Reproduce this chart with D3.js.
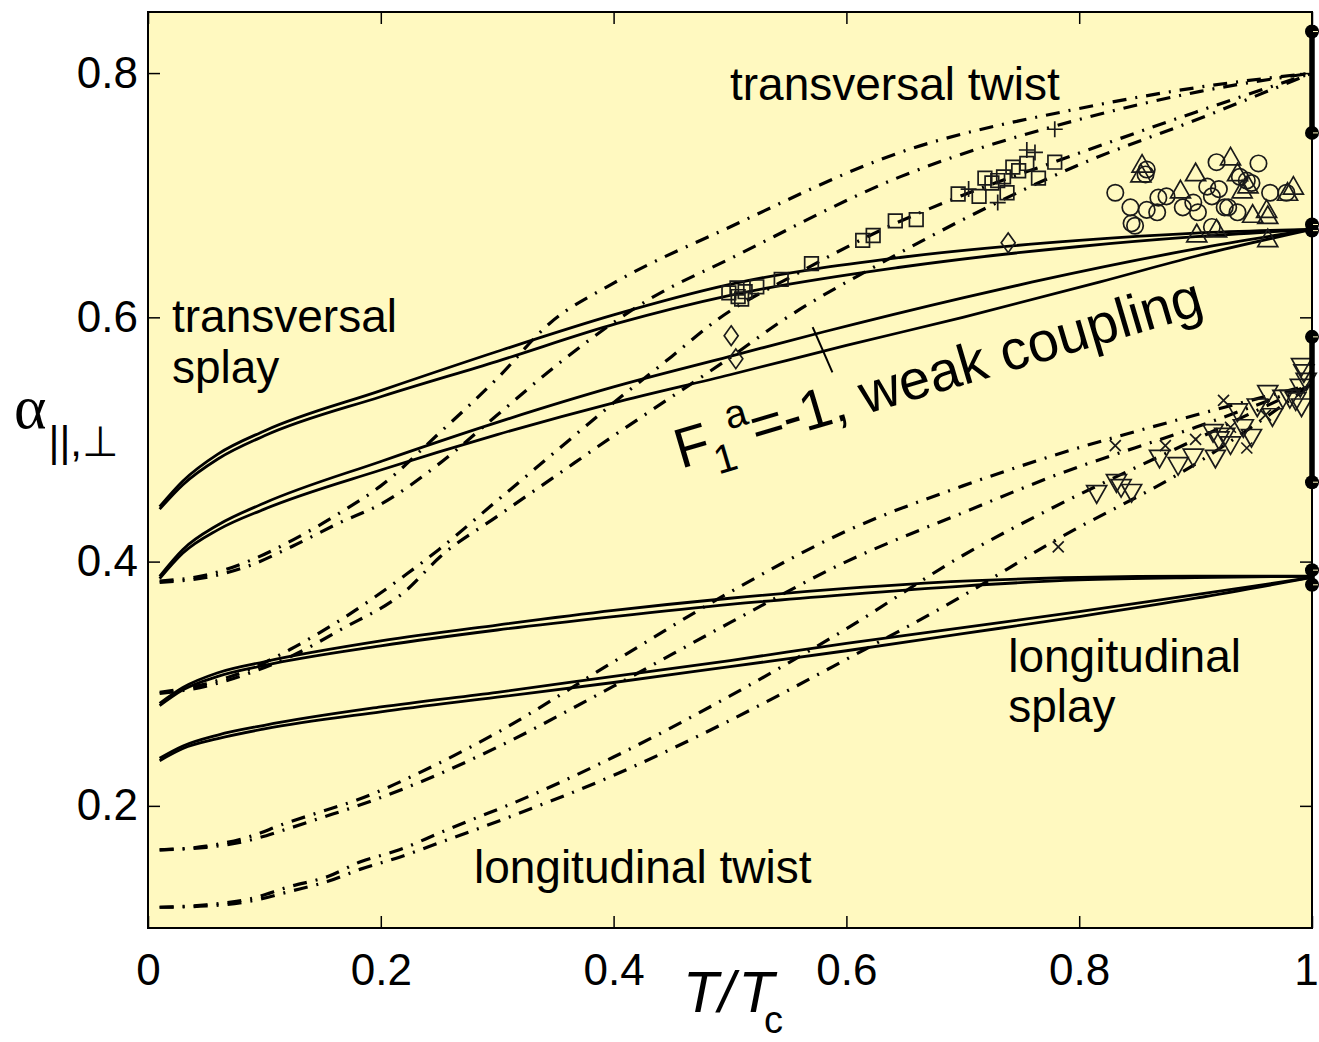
<!DOCTYPE html>
<html>
<head>
<meta charset="utf-8">
<script src="https://d3js.org/d3.v7.min.js"></script>
<style>
  body { margin: 0; background: #fff; }
  text { font-family: "Liberation Sans", Arial, sans-serif; fill: #000; }
</style>
</head>
<body>
<svg id="chart" width="1319" height="1042"></svg>
<script>
// axis ticks
var xTicks = [0, 0.2, 0.4, 0.6, 0.8, 1];
var xTickLabels = ["0", "0.2", "0.4", "0.6", "0.8", "1"];
var yTicks = [0.2, 0.4, 0.6, 0.8];
var yTickLabels = ["0.2", "0.4", "0.6", "0.8"];

// solid curves (splay), each drawn as a close double line
var transSplayA = [[0.01,0.445],[0.03,0.466],[0.06,0.488],[0.1,0.507],[0.2,0.54],[0.3,0.572],[0.4,0.602],[0.5,0.627],[0.646,0.649],[0.8,0.663],[0.9,0.669],[1,0.672]];
var transSplayB = [[0.01,0.443],[0.03,0.463],[0.06,0.484],[0.1,0.503],[0.2,0.535],[0.3,0.564],[0.403,0.595],[0.5,0.618],[0.646,0.641],[0.8,0.658],[0.9,0.666],[1,0.672]];
var transSplayC = [[0.01,0.388],[0.03,0.41],[0.06,0.43],[0.1,0.448],[0.2,0.482],[0.3,0.514],[0.4,0.543],[0.5,0.568],[0.58,0.588],[0.7,0.616],[0.76,0.629],[0.9,0.656],[1,0.672]];
var transSplayD = [[0.01,0.386],[0.03,0.407],[0.06,0.426],[0.1,0.443],[0.2,0.475],[0.3,0.504],[0.4,0.53],[0.5,0.553],[0.6,0.577],[0.7,0.6],[0.818,0.629],[0.9,0.65],[1,0.672]];
var longSplayA = [[0.01,0.284],[0.03,0.297],[0.06,0.309],[0.1,0.318],[0.2,0.335],[0.3,0.348],[0.4,0.36],[0.5,0.37],[0.6,0.378],[0.7,0.384],[0.8,0.387],[0.9,0.388],[1,0.388]];
var longSplayB = [[0.01,0.282],[0.03,0.295],[0.06,0.306],[0.1,0.315],[0.2,0.331],[0.3,0.344],[0.4,0.355],[0.5,0.365],[0.6,0.373],[0.7,0.38],[0.8,0.385],[0.9,0.387],[1,0.388]];
var longSplayC = [[0.01,0.239],[0.03,0.249],[0.06,0.258],[0.1,0.266],[0.2,0.281],[0.3,0.293],[0.4,0.306],[0.5,0.319],[0.6,0.333],[0.7,0.346],[0.8,0.359],[0.9,0.373],[1,0.387]];
var longSplayD = [[0.01,0.237],[0.03,0.247],[0.06,0.255],[0.1,0.263],[0.2,0.277],[0.3,0.289],[0.4,0.301],[0.5,0.314],[0.6,0.327],[0.7,0.341],[0.8,0.355],[0.9,0.37],[1,0.387]];

// dash-dot curves (twist)
var transTwistA = [[0.01,0.384],[0.05,0.389],[0.088,0.401],[0.125,0.418],[0.165,0.44],[0.2,0.462],[0.25,0.505],[0.3,0.55],[0.345,0.595],[0.4,0.628],[0.5,0.674],[0.646,0.735],[0.8,0.771],[0.9,0.788],[1,0.8]];
var transTwistB = [[0.01,0.383],[0.05,0.387],[0.088,0.397],[0.125,0.413],[0.165,0.432],[0.2,0.447],[0.25,0.48],[0.3,0.52],[0.35,0.56],[0.431,0.615],[0.5,0.648],[0.646,0.715],[0.8,0.762],[0.904,0.785],[1,0.8]];
var transTwistC = [[0.01,0.293],[0.05,0.3],[0.088,0.312],[0.122,0.328],[0.165,0.352],[0.2225,0.39],[0.25,0.41],[0.3,0.45],[0.35,0.49],[0.4,0.53],[0.45,0.568],[0.489,0.598],[0.56,0.637],[0.631,0.672],[0.7,0.7],[0.781,0.728],[0.9,0.768],[1,0.8]];
var transTwistD = [[0.01,0.292],[0.05,0.298],[0.088,0.309],[0.122,0.322],[0.165,0.344],[0.2225,0.377],[0.251,0.404],[0.3,0.437],[0.35,0.47],[0.4,0.503],[0.45,0.535],[0.5,0.567],[0.546,0.598],[0.631,0.645],[0.7,0.68],[0.8,0.725],[0.904,0.763],[1,0.8]];
var longTwistA = [[0.01,0.164],[0.05,0.167],[0.088,0.175],[0.116,0.185],[0.148,0.195],[0.18,0.205],[0.25,0.235],[0.3,0.26],[0.4,0.318],[0.5,0.375],[0.6,0.425],[0.7,0.462],[0.775,0.486],[0.9,0.52],[1,0.545]];
var longTwistB = [[0.01,0.164],[0.05,0.166],[0.088,0.172],[0.116,0.18],[0.148,0.19],[0.18,0.2],[0.25,0.226],[0.3,0.248],[0.4,0.298],[0.5,0.35],[0.6,0.4],[0.7,0.44],[0.775,0.469],[0.9,0.51],[1,0.545]];
var longTwistC = [[0.01,0.117],[0.05,0.119],[0.088,0.124],[0.122,0.134],[0.154,0.142],[0.182,0.154],[0.216,0.164],[0.251,0.178],[0.279,0.189],[0.308,0.2],[0.4,0.24],[0.5,0.29],[0.6,0.345],[0.7,0.405],[0.775,0.443],[0.9,0.5],[1,0.545]];
var longTwistD = [[0.01,0.117],[0.05,0.118],[0.088,0.122],[0.122,0.13],[0.154,0.138],[0.182,0.148],[0.216,0.158],[0.251,0.17],[0.308,0.19],[0.4,0.225],[0.5,0.27],[0.6,0.32],[0.7,0.372],[0.775,0.415],[0.9,0.48],[1,0.545]];

// measured points
var squarePts = [[0.499,0.62],[0.506,0.624],[0.507,0.617],[0.513,0.621],[0.51,0.615],[0.523,0.625],[0.544,0.631],[0.57,0.644],[0.614,0.663],[0.623,0.667],[0.642,0.679],[0.66,0.68],[0.696,0.701],[0.714,0.699],[0.719,0.714],[0.725,0.71],[0.73,0.712],[0.738,0.702],[0.743,0.723],[0.735,0.715],[0.748,0.72],[0.755,0.726],[0.765,0.714],[0.779,0.727]];
var plusPts = [[0.779,0.754],[0.755,0.737],[0.762,0.735],[0.73,0.694],[0.705,0.705]];
var diamondPts = [[0.739,0.661],[0.501,0.585],[0.505,0.566]];
var circlePts = [[0.831,0.702],[0.844,0.69],[0.845,0.677],[0.848,0.675],[0.857,0.717],[0.858,0.721],[0.858,0.688],[0.868,0.698],[0.867,0.686],[0.875,0.699],[0.889,0.69],[0.898,0.694],[0.902,0.686],[0.91,0.707],[0.918,0.727],[0.914,0.699],[0.925,0.69],[0.928,0.69],[0.936,0.686],[0.938,0.715],[0.944,0.712],[0.948,0.71],[0.954,0.726],[0.964,0.702],[0.978,0.702],[0.914,0.674],[0.92,0.705]];
var triUpPts = [[0.854,0.725],[0.853,0.717],[0.9,0.718],[0.93,0.731],[0.936,0.718],[0.887,0.704],[0.94,0.704],[0.945,0.708],[0.984,0.707],[0.979,0.702],[0.949,0.684],[0.961,0.688],[0.962,0.683],[0.901,0.668],[0.918,0.672],[0.962,0.664]];
var triDownPts = [[0.815,0.456],[0.832,0.465],[0.836,0.461],[0.845,0.457],[0.869,0.485],[0.885,0.479],[0.898,0.486],[0.915,0.506],[0.92,0.5],[0.925,0.503],[0.93,0.496],[0.917,0.485],[0.936,0.523],[0.941,0.51],[0.948,0.502],[0.953,0.527],[0.962,0.538],[0.966,0.519],[0.975,0.534],[0.981,0.534],[0.99,0.543],[0.991,0.56],[0.993,0.555],[0.995,0.548],[0.991,0.527],[0.986,0.532]];
var xPts = [[0.782,0.412],[0.831,0.495],[0.874,0.495],[0.9,0.5],[0.924,0.532],[0.944,0.493],[0.93,0.51],[0.96,0.52]];

// error bars at T/Tc = 1
var errX = [1, 1, 1, 1];
var errLow = [0.751, 0.465, 0.671, 0.381];
var errHigh = [0.834, 0.584, 0.676, 0.393];

// annotation pointer and labels
var pointerLine = [[0.571,0.592],[0.588,0.555]];
var labelText = ["transversal twist", "transversal", "splay", "longitudinal", "splay", "longitudinal twist"];
var labelX = [0.5, 0.0206, 0.0206, 0.739, 0.739, 0.28];
var labelY = [0.778, 0.588, 0.546, 0.31, 0.269, 0.137];

var svg = d3.select('#chart');
var x = d3.scaleLinear().domain([0, 1]).range([148, 1312]);
var y = d3.scaleLinear().domain([0.1, 0.85]).range([928, 12]);

// plot background
svg.append('rect')
  .attr('x', x(0)).attr('y', y(0.85))
  .attr('width', x(1) - x(0)).attr('height', y(0.1) - y(0.85))
  .attr('fill', '#fff9c0');

var line = d3.line()
  .x(function(d) { return x(d[0]); })
  .y(function(d) { return y(d[1]); })
  .curve(d3.curveMonotoneX);

var plot = svg.append('g');

var twist = [transTwistA, transTwistB, transTwistC, transTwistD, longTwistA, longTwistB, longTwistC, longTwistD];
plot.selectAll('path.twist')
  .data(twist)
  .enter().append('path')
  .attr('class', 'twist')
  .attr('d', line)
  .attr('fill', 'none')
  .attr('stroke', '#000')
  .attr('stroke-width', 3.2)
  .attr('stroke-dasharray', '14,9,2,9');

var splay = [transSplayA, transSplayB, transSplayC, transSplayD, longSplayA, longSplayB, longSplayC, longSplayD];
plot.selectAll('path.splay')
  .data(splay)
  .enter().append('path')
  .attr('class', 'splay')
  .attr('d', line)
  .attr('fill', 'none')
  .attr('stroke', '#000')
  .attr('stroke-width', 2.8);

// marker shapes
function sq(r) { return 'M' + (-r) + ',' + (-r) + 'h' + 2 * r + 'v' + 2 * r + 'h' + (-2 * r) + 'Z'; }
function circ(r) { return 'M' + r + ',0A' + r + ',' + r + ' 0 1,1 ' + (-r) + ',0A' + r + ',' + r + ' 0 1,1 ' + r + ',0Z'; }
function triUp(r) { return 'M0,' + (-r) + 'L' + r + ',' + (r * 0.75) + 'L' + (-r) + ',' + (r * 0.75) + 'Z'; }
function triDown(r) { return 'M0,' + r + 'L' + r + ',' + (-r * 0.75) + 'L' + (-r) + ',' + (-r * 0.75) + 'Z'; }
function diam(r) { return 'M0,' + (-r * 1.4) + 'L' + r + ',0L0,' + (r * 1.4) + 'L' + (-r) + ',0Z'; }
function plus(r) { return 'M' + (-r) + ',0H' + r + 'M0,' + (-r) + 'V' + r; }
function cross(r) { return 'M' + (-r) + ',' + (-r) + 'L' + r + ',' + r + 'M' + r + ',' + (-r) + 'L' + (-r) + ',' + r; }

function markers(pts, shape, r) {
  plot.append('g').selectAll('path')
    .data(pts)
    .enter().append('path')
    .attr('transform', function(d) { return 'translate(' + x(d[0]) + ',' + y(d[1]) + ')'; })
    .attr('d', shape(r))
    .attr('fill', 'none')
    .attr('stroke', '#1a1a1a')
    .attr('stroke-width', 1.7);
}
markers(squarePts, sq, 6.8);
markers(plusPts, plus, 8);
markers(diamondPts, diam, 7);
markers(circlePts, circ, 8.2);
markers(triUpPts, triUp, 10);
markers(triDownPts, triDown, 10);
markers(xPts, cross, 5.5);

// error bars on right edge
var errIdx = d3.range(errX.length);
plot.selectAll('line.err')
  .data(errIdx)
  .enter().append('line')
  .attr('class', 'err')
  .attr('x1', function(i) { return x(errX[i]); })
  .attr('x2', function(i) { return x(errX[i]); })
  .attr('y1', function(i) { return y(errLow[i]); })
  .attr('y2', function(i) { return y(errHigh[i]); })
  .attr('stroke', '#000')
  .attr('stroke-width', 5.5);
var errEnds = [];
errIdx.forEach(function(i) { errEnds.push([errX[i], errLow[i]]); errEnds.push([errX[i], errHigh[i]]); });
plot.selectAll('circle.errEnd')
  .data(errEnds)
  .enter().append('circle')
  .attr('class', 'errEnd')
  .attr('cx', function(d) { return x(d[0]); })
  .attr('cy', function(d) { return y(d[1]); })
  .attr('r', 7)
  .attr('fill', '#000');
plot.selectAll('line.errCap')
  .data(errEnds)
  .enter().append('line')
  .attr('class', 'errCap')
  .attr('x1', function(d) { return x(d[0]) + 1; })
  .attr('x2', function(d) { return x(d[0]) + 6; })
  .attr('y1', function(d) { return y(d[1]); })
  .attr('y2', function(d) { return y(d[1]); })
  .attr('stroke', '#fff9c0')
  .attr('stroke-width', 1);

// pointer for the annotation
plot.append('path')
  .attr('d', d3.line().x(function(d) { return x(d[0]); }).y(function(d) { return y(d[1]); })(pointerLine))
  .attr('stroke', '#000')
  .attr('stroke-width', 2);

// axes frame and ticks
var frame = svg.append('g');
frame.append('rect')
  .attr('x', x(0)).attr('y', y(0.85))
  .attr('width', x(1) - x(0)).attr('height', y(0.1) - y(0.85))
  .attr('fill', 'none').attr('stroke', '#000').attr('stroke-width', 2);

var xAxis = d3.axisBottom(x).tickValues(xTicks).tickSize(-12).tickPadding(26)
  .tickFormat(function(d, i) { return xTickLabels[i]; });
var gx = frame.append('g').attr('transform', 'translate(0,' + y(0.1) + ')').call(xAxis);
gx.select('.domain').remove();
gx.selectAll('line').attr('stroke', '#000').attr('stroke-width', 1.5);
gx.selectAll('text').style('font-size', '44px').style('font-family', '"Liberation Sans", Arial, sans-serif').attr('fill', '#000')
  .attr('dx', function(d) { return d === 1 ? -6 : 0; });

var xAxisTop = d3.axisTop(x).tickValues(xTicks).tickSize(-12).tickFormat('');
var gxt = frame.append('g').attr('transform', 'translate(0,' + y(0.85) + ')').call(xAxisTop);
gxt.select('.domain').remove();
gxt.selectAll('line').attr('stroke', '#000').attr('stroke-width', 1.5);

var yAxis = d3.axisLeft(y).tickValues(yTicks).tickSize(-12).tickPadding(10)
  .tickFormat(function(d, i) { return yTickLabels[i]; });
var gy = frame.append('g').attr('transform', 'translate(' + x(0) + ',0)').call(yAxis);
gy.select('.domain').remove();
gy.selectAll('line').attr('stroke', '#000').attr('stroke-width', 1.5);
gy.selectAll('text').style('font-size', '44px').style('font-family', '"Liberation Sans", Arial, sans-serif').attr('fill', '#000');

var yAxisRight = d3.axisRight(y).tickValues(yTicks).tickSize(-12).tickFormat('');
var gyr = frame.append('g').attr('transform', 'translate(' + x(1) + ',0)').call(yAxisRight);
gyr.select('.domain').remove();
gyr.selectAll('line').attr('stroke', '#000').attr('stroke-width', 1.5);

// curve labels
svg.append('g').selectAll('text')
  .data(labelText)
  .enter().append('text')
  .attr('x', function(d, i) { return x(labelX[i]); })
  .attr('y', function(d, i) { return y(labelY[i]); })
  .style('font-size', '46px')
  .text(function(d) { return d; });

// rotated annotation
var ann = svg.append('text')
  .attr('transform', 'translate(' + x(0.458) + ',' + y(0.476) + ') rotate(-16.5)')
  .style('font-size', '56px');
ann.append('tspan').text('F');
ann.append('tspan').attr('dy', 16).style('font-size', '40px').text('1');
ann.append('tspan').attr('dy', -40).style('font-size', '40px').text('a');
ann.append('tspan').attr('dy', 24).text('=-1, weak coupling');

// x axis title
var xt = svg.append('text').attr('x', 683).attr('y', 1012).style('font-size', '58px');
xt.append('tspan').style('font-style', 'italic').text('T/');
xt.append('tspan').style('font-style', 'italic').attr('dx', 4).text('T');
xt.append('tspan').attr('dy', 21).attr('dx', -10).style('font-size', '38px').text('c');

// y axis title
var yt = svg.append('text').attr('x', 14).attr('y', 428);
yt.append('tspan').style('font-family', '"Liberation Serif", "Times New Roman", serif').style('font-size', '62px').text('α');
yt.append('tspan').attr('dy', 28).attr('dx', 2).style('font-size', '42px').text('||,⊥');
</script>
</body>
</html>
